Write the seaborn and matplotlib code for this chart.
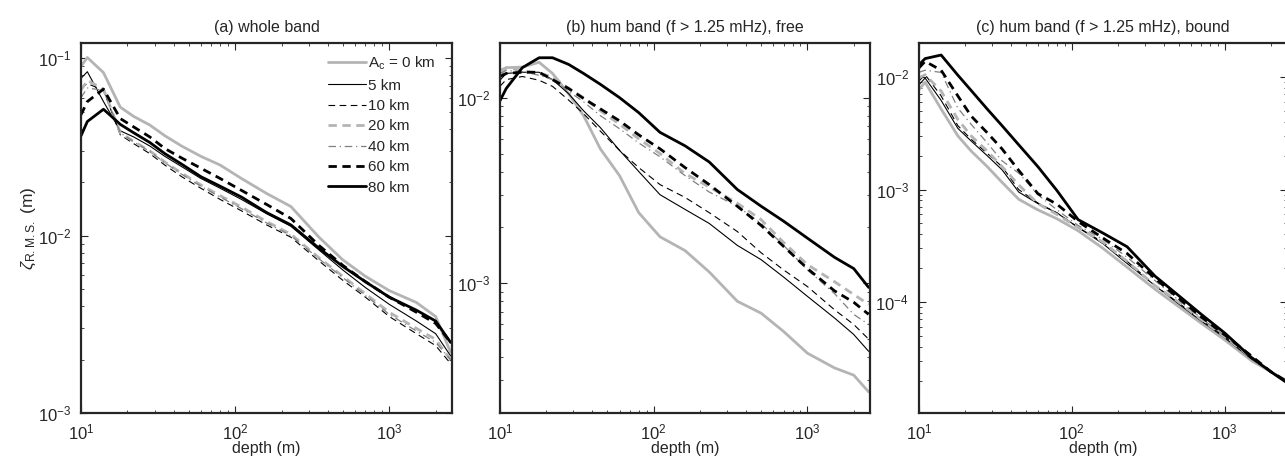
import numpy as np
import pandas as pd
import seaborn as sns
import matplotlib
matplotlib.use('Agg')
import matplotlib.pyplot as plt
from matplotlib.ticker import NullFormatter, LogLocator

# depth grid (m)
depth = [10, 11, 14, 18, 22, 28, 35, 45, 60, 80, 110, 160, 230, 350, 500, 700, 1000, 1500, 2000, 2500]

labels = [r'A$_\mathrm{c}$ = 0 km', '5 km', '10 km', '20 km', '40 km', '60 km', '80 km']

# (a) whole band
a_0 = [0.090, 0.101, 0.083, 0.053, 0.047, 0.042, 0.0366, 0.032, 0.028, 0.025, 0.021, 0.0173, 0.0146, 0.0098, 0.0073, 0.0059, 0.0049, 0.0042, 0.0035, 0.0022]
a_5 = [0.077, 0.084, 0.057, 0.039, 0.036, 0.032, 0.028, 0.0245, 0.021, 0.0185, 0.016, 0.0133, 0.0113, 0.0083, 0.0064, 0.0051, 0.0041, 0.0033, 0.0028, 0.0021]
a_10 = [0.068, 0.072, 0.066, 0.037, 0.033, 0.029, 0.025, 0.0215, 0.0185, 0.016, 0.0138, 0.0115, 0.0098, 0.0072, 0.0056, 0.0045, 0.0035, 0.0028, 0.0024, 0.0019]
a_20 = [0.066, 0.075, 0.067, 0.038, 0.034, 0.030, 0.026, 0.0225, 0.0193, 0.0168, 0.0145, 0.012, 0.0102, 0.0075, 0.0059, 0.0047, 0.0037, 0.0030, 0.0026, 0.0020]
a_40 = [0.060, 0.068, 0.066, 0.038, 0.0338, 0.0298, 0.0258, 0.0222, 0.019, 0.0165, 0.0142, 0.0118, 0.0100, 0.0074, 0.0058, 0.0046, 0.0036, 0.0029, 0.0025, 0.0020]
a_60 = [0.048, 0.057, 0.067, 0.0457, 0.041, 0.036, 0.031, 0.0274, 0.024, 0.021, 0.018, 0.015, 0.0125, 0.0088, 0.0068, 0.0055, 0.0045, 0.0037, 0.0032, 0.0025]
a_80 = [0.0365, 0.044, 0.0516, 0.0424, 0.038, 0.0335, 0.029, 0.0253, 0.0215, 0.019, 0.0165, 0.0135, 0.0115, 0.0085, 0.0067, 0.0055, 0.0045, 0.0038, 0.0033, 0.0025]

# (b) hum band, free
b_0 = [0.0131, 0.0145, 0.0146, 0.0155, 0.0135, 0.0105, 0.0080, 0.0053, 0.0038, 0.0024, 0.00178, 0.0015, 0.00115, 0.00080, 0.00069, 0.00055, 0.00042, 0.00035, 0.00032, 0.00026]
b_5 = [0.0124, 0.0135, 0.0137, 0.0137, 0.0125, 0.0105, 0.0085, 0.0069, 0.0052, 0.0040, 0.0030, 0.0025, 0.0021, 0.0016, 0.00134, 0.00108, 0.00085, 0.00065, 0.00053, 0.00043]
b_10 = [0.0115, 0.0125, 0.0130, 0.0124, 0.0115, 0.0097, 0.0082, 0.0066, 0.0052, 0.0042, 0.0034, 0.0029, 0.0024, 0.0019, 0.00146, 0.00118, 0.00096, 0.00072, 0.00060, 0.00050]
b_20 = [0.0140, 0.0145, 0.0140, 0.0135, 0.0130, 0.0112, 0.0100, 0.0085, 0.0072, 0.0060, 0.0050, 0.0039, 0.0033, 0.0027, 0.0022, 0.00166, 0.00126, 0.00102, 0.00087, 0.00077]
b_40 = [0.0135, 0.0140, 0.0138, 0.0132, 0.0125, 0.0108, 0.0095, 0.0080, 0.0068, 0.0057, 0.0048, 0.0038, 0.0031, 0.0026, 0.0021, 0.0016, 0.00118, 0.00088, 0.00068, 0.00060]
b_60 = [0.0130, 0.0135, 0.0137, 0.0137, 0.0125, 0.0112, 0.0099, 0.0087, 0.0075, 0.0063, 0.0053, 0.0042, 0.0034, 0.0026, 0.00205, 0.00158, 0.0012, 0.00091, 0.00079, 0.00068]
b_80 = [0.0096, 0.0112, 0.0145, 0.0164, 0.0164, 0.0151, 0.0135, 0.0118, 0.0100, 0.0083, 0.0065, 0.0055, 0.0045, 0.0032, 0.0026, 0.00216, 0.00175, 0.00138, 0.0012, 0.00095]

# (c) hum band, bound
c_0 = [0.0077, 0.0090, 0.0052, 0.0030, 0.0022, 0.0016, 0.00116, 0.00082, 0.00066, 0.00055, 0.00043, 0.00030, 0.000204, 0.00013, 0.000091, 0.000065, 0.000046, 0.00003, 0.000024, 0.00002]
c_5 = [0.0085, 0.0098, 0.0062, 0.0035, 0.0027, 0.0020, 0.0015, 0.00095, 0.00075, 0.00062, 0.00046, 0.00033, 0.00022, 0.00014, 0.000096, 0.000068, 0.000048, 0.000031, 0.000024, 0.00002]
c_10 = [0.0092, 0.0105, 0.0068, 0.0037, 0.0028, 0.0021, 0.0016, 0.0010, 0.00076, 0.00062, 0.00046, 0.00034, 0.00023, 0.00014, 0.000098, 0.000069, 0.000049, 0.000032, 0.000024, 0.00002]
c_20 = [0.0098, 0.0105, 0.0075, 0.0042, 0.0030, 0.0022, 0.0016, 0.0011, 0.00075, 0.00060, 0.00046, 0.00034, 0.00023, 0.00014, 0.0001, 0.00007, 0.000049, 0.000032, 0.000024, 0.00002]
c_40 = [0.0110, 0.0115, 0.0110, 0.0053, 0.0038, 0.0026, 0.0018, 0.0014, 0.0009, 0.00066, 0.00048, 0.00036, 0.00025, 0.000155, 0.000104, 0.000072, 0.00005, 0.000032, 0.000024, 0.00002]
c_60 = [0.0120, 0.0138, 0.0115, 0.0068, 0.0045, 0.0032, 0.0023, 0.00148, 0.00092, 0.00074, 0.00052, 0.00037, 0.00027, 0.000162, 0.000108, 0.000074, 0.000051, 0.000033, 0.000024, 0.00002]
c_80 = [0.0128, 0.0146, 0.0157, 0.0104, 0.0076, 0.0052, 0.0037, 0.0025, 0.0016, 0.00098, 0.00054, 0.00041, 0.00031, 0.00017, 0.000114, 0.000078, 0.000053, 0.000032, 0.000024, 0.0000195]

panels = [
    ('(a) whole band', [a_0, a_5, a_10, a_20, a_40, a_60, a_80], (1e-3, 0.122)),
    ('(b) hum band (f > 1.25 mHz), free', [b_0, b_5, b_10, b_20, b_40, b_60, b_80], (2e-4, 0.0197)),
    ('(c) hum band (f > 1.25 mHz), bound', [c_0, c_5, c_10, c_20, c_40, c_60, c_80], (1.03e-5, 0.0201)),
]

lgray = '#b4b4b4'
mgray = '#808080'
styles = [
    dict(color=lgray, lw=2.0, ls='-'),
    dict(color='black', lw=0.8, ls='-'),
    dict(color='black', lw=0.8, ls=(0, (6, 4))),
    dict(color=lgray, lw=2.0, ls=(0, (3, 2))),
    dict(color=mgray, lw=0.9, ls=(0, (6, 3, 1, 3))),
    dict(color='black', lw=2.0, ls=(0, (3, 2))),
    dict(color='black', lw=2.0, ls='-'),
]

sns.set_style('ticks')
plt.rcParams['font.family'] = ['Liberation Sans', 'DejaVu Sans']
plt.rcParams['mathtext.fontset'] = 'custom'
plt.rcParams['mathtext.rm'] = 'Liberation Sans'
plt.rcParams['mathtext.it'] = 'Liberation Sans:italic'
plt.rcParams['font.size'] = 11

fig = plt.figure(figsize=(12.85, 4.62), dpi=100)
lefts = [0.063, 0.389, 0.715]
widths = [0.2887, 0.288, 0.2865]

for i, (title, series, ylim) in enumerate(panels):
    ax = fig.add_axes([lefts[i], 0.106, widths[i], 0.801])
    for lab, vals, st in zip(labels, series, styles):
        df = pd.DataFrame({'depth': depth, 'val': vals})
        sns.lineplot(data=df, x='depth', y='val', ax=ax, label=lab,
                     color=st['color'], linewidth=st['lw'], linestyle=st['ls'])
    ax.set_xscale('log')
    ax.set_yscale('log')
    ax.set_xlim(10, 2550)
    ax.set_ylim(*ylim)
    ax.set_title(title, fontsize=11.5, pad=8)
    ax.set_xlabel('depth (m)', fontsize=11.5, labelpad=-1)
    if i == 0:
        ax.set_ylabel(r'$\zeta_{\mathrm{R.M.S.}}$ (m)', fontsize=12.5, labelpad=0)
        ax.legend(loc='upper left', frameon=False, fontsize=11,
                  handlelength=2.5, handletextpad=0.15, labelspacing=0.42,
                  borderaxespad=0, borderpad=0,
                  bbox_to_anchor=(0.665, 0.968))
    else:
        ax.set_ylabel('')
        ax.get_legend().remove()
    ax.xaxis.set_minor_formatter(NullFormatter())
    ax.yaxis.set_minor_formatter(NullFormatter())
    ax.yaxis.set_minor_locator(LogLocator(base=10, subs=np.arange(2, 10)))
    ax.tick_params(which='both', direction='in', top=True, right=True, labelsize=12)
    ax.tick_params(which='major', length=5, width=0.8, pad=7)
    ax.tick_params(which='minor', length=2.5, width=0.6)
    for s in ax.spines.values():
        s.set_linewidth(1.6)
        s.set_visible(True)

fig.savefig('out.png', dpi=100)
